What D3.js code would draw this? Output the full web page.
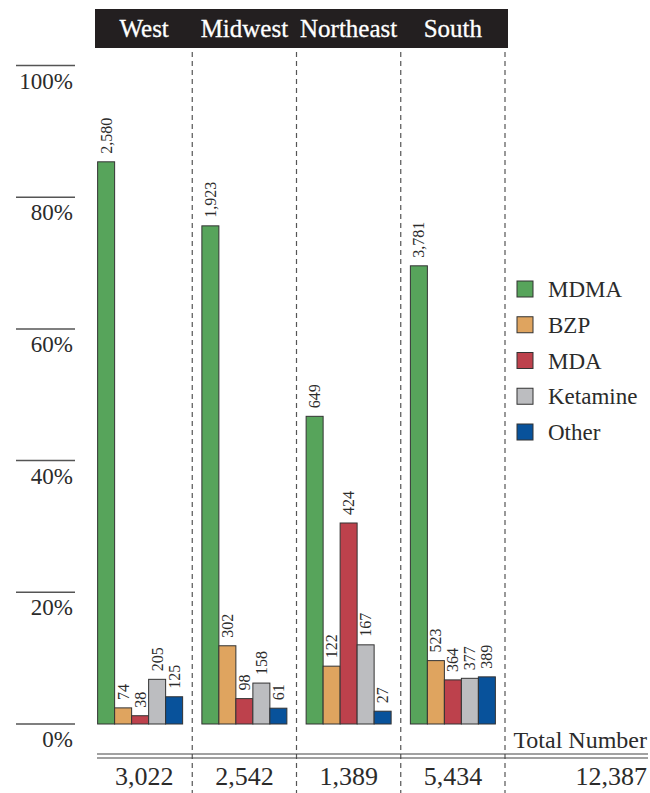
<!DOCTYPE html>
<html>
<head>
<meta charset="utf-8">
<script src="https://cdn.jsdelivr.net/npm/d3@7"></script>
<style>
    body { margin: 0; background: #fff; }
    text { font-family: "Liberation Serif", "DejaVu Serif", serif; }
</style>
</head>
<body>
<div id="chart"></div>
<script>
(function(){

    var regions = ["West", "Midwest", "Northeast", "South"];
    var drugs = ["MDMA", "BZP", "MDA", "Ketamine", "Other"];
    var mdma = [2580, 1923, 649, 3781];
    var bzp = [74, 302, 122, 523];
    var mda = [38, 98, 424, 364];
    var ketamine = [205, 158, 167, 377];
    var other = [125, 61, 27, 389];
    var totals = [3022, 2542, 1389, 5434];
    var grandTotal = 12387;
    var yTicks = [0, 0.2, 0.4, 0.6, 0.8, 1];
    var colors = ["#57a45b", "#dfa45f", "#bd414c", "#bcbdc0", "#08529b"];

    var chart = {
        width: 650,
        height: 793,
        left: 88,
        right: 505,
        base: 724,
        top: 65.5,
        barWidth: 17
    };

    var series = [mdma, bzp, mda, ketamine, other];
    var fmt = d3.format(",");

    var svg = d3.select("#chart")
        .append("svg")
        .attr("width", chart.width)
        .attr("height", chart.height);

    var x = d3.scaleBand()
        .domain(regions)
        .range([chart.left, chart.right]);

    var xInner = d3.scaleBand()
        .domain(drugs)
        .range([-chart.barWidth * 2.5, chart.barWidth * 2.5]);

    var y = d3.scaleLinear()
        .domain([0, 1])
        .range([chart.base, chart.top]);

    var color = d3.scaleOrdinal().domain(drugs).range(colors);

    /* y轴刻度 */
    var ticks = svg.append("g").selectAll("g")
        .data(yTicks)
        .enter()
        .append("g")
        .attr("transform", function(d){ return "translate(0," + y(d) + ")"; });

    ticks.append("line")
        .attr("x1", 16)
        .attr("x2", 75)
        .style("stroke", "#555")
        .style("stroke-width", 1.5);

    ticks.append("text")
        .attr("x", 73)
        .attr("y", 23)
        .attr("text-anchor", "end")
        .text(d3.format(".0%"))
        .style("font-size", "23px")
        .style("fill", "#2b2b2b");

    /* 标题栏 */
    svg.append("rect")
        .attr("x", 95)
        .attr("y", 9)
        .attr("width", 413)
        .attr("height", 39)
        .style("fill", "#231f20");

    svg.append("g").selectAll("text")
        .data(regions)
        .enter()
        .append("text")
        .attr("x", function(d){ return x(d) + x.bandwidth() / 2 + (d == "West" ? 4 : 0); })
        .attr("y", 37)
        .attr("text-anchor", "middle")
        .text(function(d){ return d; })
        .style("font-size", "25px")
        .style("fill", "#fff")
        .style("stroke", "#fff")
        .style("stroke-width", 0.3);

    /* 虚线分隔 */
    svg.append("g").selectAll("line")
        .data(regions)
        .enter()
        .append("line")
        .attr("x1", function(d){ return x(d) + x.bandwidth(); })
        .attr("x2", function(d){ return x(d) + x.bandwidth(); })
        .attr("y1", 52)
        .attr("y2", chart.height)
        .style("stroke", "#555")
        .style("stroke-width", 1.2)
        .style("stroke-dasharray", "5,4");

    /* 柱子 */
    var groups = svg.append("g").selectAll("g")
        .data(regions)
        .enter()
        .append("g")
        .attr("transform", function(d){ return "translate(" + (x(d) + x.bandwidth() / 2) + ",0)"; });

    var bars = groups.selectAll("g")
        .data(function(d, i){
            return drugs.map(function(drug, j){
                return { drug: drug, value: series[j][i], pct: series[j][i] / totals[i] };
            });
        })
        .enter()
        .append("g");

    bars.append("rect")
        .attr("x", function(d){ return xInner(d.drug); })
        .attr("y", function(d){ return y(d.pct); })
        .attr("width", xInner.bandwidth())
        .attr("height", function(d){ return chart.base - y(d.pct); })
        .style("fill", function(d){ return color(d.drug); })
        .style("stroke", "#333")
        .style("stroke-width", 1);

    bars.append("text")
        .attr("transform", function(d){
            return "translate(" + (xInner(d.drug) + xInner.bandwidth() / 2) + "," + (y(d.pct) - 8) + ") rotate(-90)";
        })
        .attr("dy", "0.35em")
        .text(function(d){ return fmt(d.value); })
        .style("font-size", "16px")
        .style("fill", "#2b2b2b");

    /* 合计 */
    svg.append("line")
        .attr("x1", 97).attr("x2", 648)
        .attr("y1", 754).attr("y2", 754)
        .style("stroke", "#444").style("stroke-width", 1.2);
    svg.append("line")
        .attr("x1", 97).attr("x2", 648)
        .attr("y1", 758).attr("y2", 758)
        .style("stroke", "#444").style("stroke-width", 1.2);

    svg.append("text")
        .attr("x", 647)
        .attr("y", 748)
        .attr("text-anchor", "end")
        .text("Total Number")
        .style("font-size", "24px")
        .style("fill", "#2b2b2b");

    svg.append("g").selectAll("text")
        .data(totals)
        .enter()
        .append("text")
        .attr("x", function(d, i){ return x(regions[i]) + x.bandwidth() / 2 + (i == 0 ? 4 : 0); })
        .attr("y", 785)
        .attr("text-anchor", "middle")
        .text(fmt)
        .style("font-size", "26px")
        .style("fill", "#2b2b2b");

    svg.append("text")
        .attr("x", 647)
        .attr("y", 785)
        .attr("text-anchor", "end")
        .text(fmt(grandTotal))
        .style("font-size", "26px")
        .style("fill", "#2b2b2b");

    /* 图例 */
    var legend = svg.append("g").selectAll("g")
        .data(drugs)
        .enter()
        .append("g")
        .attr("transform", function(d, i){ return "translate(517," + (281 + i * 35.75) + ")"; });

    legend.append("rect")
        .attr("width", 16)
        .attr("height", 16)
        .style("fill", function(d){ return color(d); })
        .style("stroke", "#333")
        .style("stroke-width", 1);

    legend.append("text")
        .attr("x", 31)
        .attr("y", 16)
        .text(function(d){ return d; })
        .style("font-size", "23px")
        .style("fill", "#2b2b2b");

})();
</script>
</body>
</html>
